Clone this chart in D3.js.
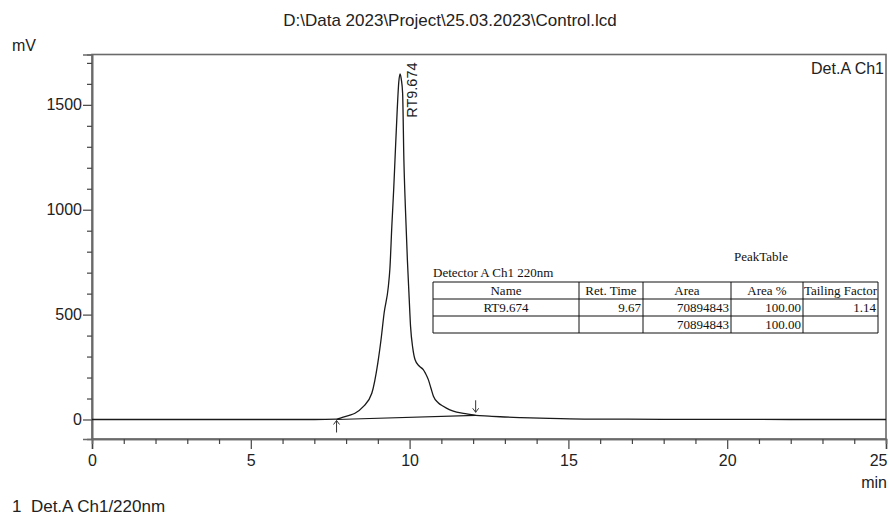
<!DOCTYPE html>
<html>
<head>
<meta charset="utf-8">
<script src="https://cdn.jsdelivr.net/npm/d3@7"></script>
<style>
  body { margin: 0; background: #fff; }
  text { font-family: "Liberation Sans", Arial, sans-serif; fill: #222; }
  .tbl text { font-family: "Liberation Serif", "Times New Roman", serif; font-size: 13px; fill: #111; }
</style>
</head>
<body>
<svg id="chart"></svg>
<script>
const width = 890;
const height = 515;

// chromatogram signal (min, mV)
const times = [0, 3, 6, 7.0, 7.7, 7.91, 8.1, 8.28, 8.54, 8.81, 9.0, 9.1, 9.2, 9.33, 9.38, 9.44, 9.5, 9.54, 9.61, 9.66, 9.70, 9.74, 9.78, 9.82, 9.87, 9.93, 9.98, 10.03, 10.1, 10.17, 10.3, 10.43, 10.5, 10.59, 10.67, 10.75, 10.9, 11.06, 11.25, 11.48, 11.8, 12.08, 12.5, 12.85, 13.5, 14.4, 15.5, 18, 22, 25];
const signal = [0, 0, 0, 0, 2, 11, 20, 30, 61, 125, 270, 380, 510, 633, 720, 920, 1100, 1238, 1476, 1610, 1648, 1620, 1556, 1238, 1000, 762, 600, 444, 340, 286, 255, 238, 220, 190, 150, 111, 80, 63, 47, 35, 27, 20, 16, 13, 9, 5, 2, 1, 0, 0];

// integration baseline (start / end marks)
const markTimes = [7.70, 12.08];
const markValues = [0, 20];

const peakName = 'RT9.674';
const peakTime = 9.674;
const peakHeight = 1648;

const yTicks = [0, 500, 1000, 1500];
const xTicks = [0, 5, 10, 15, 20, 25];

const tableTitle = 'PeakTable';
const detectorLabel = 'Detector A Ch1 220nm';
const tableHeader = ['Name', 'Ret. Time', 'Area', 'Area %', 'Tailing Factor'];
const tableRows = [
    ['RT9.674', '9.67', '70894843', '100.00', '1.14'],
    ['', '', '70894843', '100.00', '']
];

const svg = d3.select('#chart')
    .attr('width', width)
    .attr('height', height);

const plotL = 92, plotR = 886, plotT = 54.5, plotB = 439;

const x = d3.scaleLinear().domain([0, 25]).range([plotL, plotR]);
const y = d3.scaleLinear().domain([-93, 1740]).range([plotB, plotT]);

// title
svg.append('text')
    .attr('x', 450).attr('y', 26)
    .attr('text-anchor', 'middle')
    .style('font-size', '17px')
    .text('D:\\Data 2023\\Project\\25.03.2023\\Control.lcd');

svg.append('text')
    .attr('x', 12).attr('y', 51)
    .style('font-size', '16px')
    .text('mV');

// frame
svg.append('rect')
    .attr('x', plotL).attr('y', plotT)
    .attr('width', plotR - plotL).attr('height', plotB - plotT)
    .attr('fill', 'none')
    .attr('stroke', '#6a6a6a')
    .attr('stroke-width', 1.6);

// y axis, major + minor
const yAxis = svg.append('g')
    .attr('transform', `translate(${plotL},0)`)
    .call(d3.axisLeft(y).tickValues(yTicks).tickSize(9).tickPadding(1).tickFormat(d3.format('d')));
svg.append('g')
    .attr('transform', `translate(${plotL},0)`)
    .call(d3.axisLeft(y).tickValues(d3.range(0, 1701, 100).filter(v => !yTicks.includes(v))).tickSize(5).tickFormat(''));

// x axis, major + minor
const xAxis = svg.append('g')
    .attr('transform', `translate(0,${plotB})`)
    .call(d3.axisBottom(x).tickValues(xTicks).tickSize(10).tickPadding(6).tickFormat(d3.format('d')));
svg.append('g')
    .attr('transform', `translate(0,${plotB})`)
    .call(d3.axisBottom(x).tickValues(d3.range(1, 25).filter(v => !xTicks.includes(v))).tickSize(5).tickFormat(''));

svg.selectAll('.domain').attr('stroke', '#6a6a6a').attr('stroke-width', 1.6);
svg.selectAll('.tick line').attr('stroke', '#444').attr('stroke-width', 1.2);
svg.selectAll('.tick text').style('font-size', '16px').attr('fill', '#222');

// last x label sits right-aligned on the frame
xAxis.selectAll('.tick').filter(d => d === 25).select('text')
    .attr('text-anchor', 'end').attr('x', 1);

svg.append('text')
    .attr('x', plotR + 1).attr('y', 488)
    .attr('text-anchor', 'end')
    .style('font-size', '16px')
    .text('min');

svg.append('text')
    .attr('x', plotR - 2).attr('y', 74)
    .attr('text-anchor', 'end')
    .style('font-size', '16px')
    .text('Det.A Ch1');

svg.append('text')
    .attr('x', 12).attr('y', 512)
    .attr('xml:space', 'preserve')
    .style('white-space', 'pre')
    .style('font-size', '17px')
    .text('1  Det.A Ch1/220nm');

// signal trace
const line = d3.line()
    .x((d, i) => x(times[i]))
    .y(d => y(d))
    .curve(d3.curveMonotoneX);

svg.append('path')
    .datum(signal)
    .attr('d', line)
    .attr('fill', 'none')
    .attr('stroke', '#1a1a1a')
    .attr('stroke-width', 1.3);

// baseline
svg.append('path')
    .datum(markValues)
    .attr('d', d3.line().x((d, i) => x(markTimes[i])).y(d => y(d)))
    .attr('fill', 'none')
    .attr('stroke', '#1a1a1a')
    .attr('stroke-width', 1.2);

// start / end arrows
markTimes.forEach((t, i) => {
    const px = x(t), py = y(markValues[i]);
    const up = i === 0;
    const tipY = up ? py + 1 : py - 3;
    const tailY = up ? py + 13 : py - 15;
    const g = svg.append('g').attr('stroke', '#333').attr('stroke-width', 1).attr('fill', 'none');
    g.append('line').attr('x1', px).attr('x2', px).attr('y1', tailY).attr('y2', tipY);
    const s = up ? 1 : -1;
    g.append('path').attr('d', `M${px - 3},${tipY + 4 * s} L${px},${tipY} L${px + 3},${tipY + 4 * s}`);
});

// peak label
svg.append('text')
    .attr('transform', `translate(${x(peakTime) + 18},${y(peakHeight) + 44}) rotate(-90)`)
    .style('font-size', '14.5px')
    .text(peakName);

// peak table
const colX = [433, 579, 643, 731, 803, 878];
const rowY = [282, 299, 316, 333];
const tbl = svg.append('g').attr('class', 'tbl');

tbl.append('text').attr('x', 761).attr('y', 261).attr('text-anchor', 'middle').text(tableTitle);
tbl.append('text').attr('x', 433).attr('y', 277).text(detectorLabel);

rowY.forEach(yy => tbl.append('line')
    .attr('x1', colX[0]).attr('x2', colX[5]).attr('y1', yy).attr('y2', yy)
    .attr('stroke', '#111').attr('stroke-width', 1));
colX.forEach(xx => tbl.append('line')
    .attr('x1', xx).attr('x2', xx).attr('y1', rowY[0]).attr('y2', rowY[3])
    .attr('stroke', '#111').attr('stroke-width', 1));

tableHeader.forEach((h, c) => tbl.append('text')
    .attr('x', (colX[c] + colX[c + 1]) / 2).attr('y', rowY[1] - 4)
    .attr('text-anchor', 'middle').text(h));

tableRows.forEach((row, r) => row.forEach((v, c) => {
    const centred = c === 0;
    tbl.append('text')
        .attr('x', centred ? (colX[c] + colX[c + 1]) / 2 : colX[c + 1] - 2)
        .attr('y', rowY[r + 2] - 4)
        .attr('text-anchor', centred ? 'middle' : 'end')
        .text(v);
}));
</script>
</body>
</html>
